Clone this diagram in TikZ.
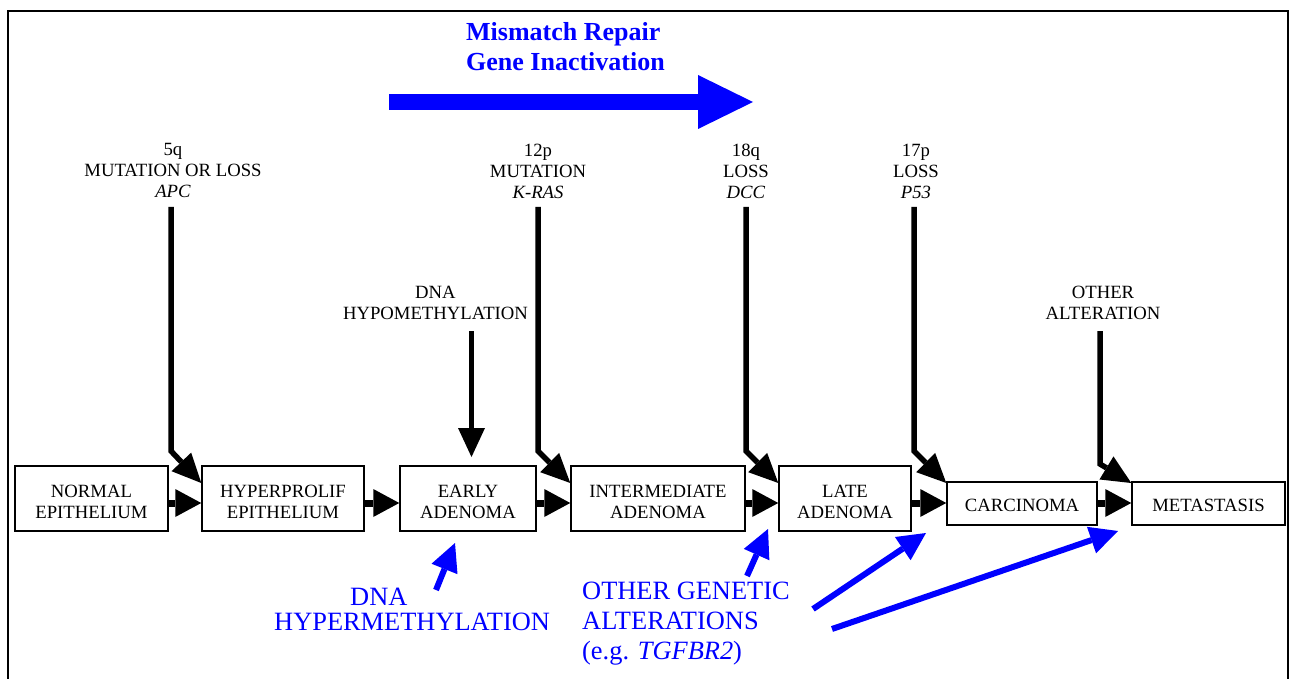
\documentclass[tikz,border=0pt]{standalone}
\usepackage{fontspec}
\setmainfont{Liberation Serif}
\usetikzlibrary{arrows.meta}
\definecolor{mblue}{RGB}{0,0,255}
\begin{document}
\begin{tikzpicture}[x=1pt,y=-1pt,
 box/.style={draw,line width=1.5pt,inner sep=0pt},
 boxtxt/.style={align=center,font=\fontsize{18.7}{21}\selectfont,inner sep=0pt,yshift=-3.5pt},
 boxtxtb/.style={align=center,font=\fontsize{18.7}{21}\selectfont,inner sep=0pt,yshift=-1.5pt},
 lbl/.style={align=center,font=\fontsize{18.7}{21}\selectfont,inner sep=0pt},
 blbl/.style={align=left,text=mblue,inner sep=0pt,anchor=west},
 hor/.style={line width=7pt,-{Triangle[length=26pt,width=28pt,line width=0pt]}},
 blk/.style={line width=5.5pt,-{Triangle[length=29pt,width=27pt,line width=0pt]}},
 bluearr/.style={mblue,line width=6pt,-{Triangle[length=28pt,width=28pt,line width=0pt]}},
]
\useasboundingbox (0,0) rectangle (1291,679);
\draw[line width=2.5pt] (8,679) -- (8,11) -- (1288,11) -- (1288,679);

% title and big arrow
\node[blbl,font=\bfseries\fontsize{26}{30}\selectfont] (mmr) at (466,47) {Mismatch Repair\\Gene Inactivation};
\coordinate (ma) at (389,102);
\coordinate (mb) at (753,102);
\draw[mblue,line width=16pt,-{Triangle[length=55pt,width=54pt,line width=0pt]}] (ma) -- (mb);

% stage boxes
\node[box,minimum width=153pt,minimum height=65pt,label={[boxtxt]center:{NORMAL\\EPITHELIUM}}] (n1) at (91.5,498.5) {};
\node[box,minimum width=162pt,minimum height=65pt,label={[boxtxt]center:{HYPERPROLIF\\EPITHELIUM}}] (n2) at (283,498.5) {};
\node[box,minimum width=136pt,minimum height=65pt,label={[boxtxt]center:{EARLY\\ADENOMA}}] (n3) at (468,498.5) {};
\node[box,minimum width=174pt,minimum height=65pt,label={[boxtxt]center:{INTERMEDIATE\\ADENOMA}}] (n4) at (658,498.5) {};
\node[box,minimum width=132pt,minimum height=65pt,label={[boxtxt]center:{LATE\\ADENOMA}}] (n5) at (845,498.5) {};
\node[box,minimum width=150pt,minimum height=43pt,label={[boxtxtb]center:CARCINOMA}] (n6) at (1022,503.5) {};
\node[box,minimum width=153pt,minimum height=43pt,label={[boxtxtb]center:METASTASIS}] (n7) at (1208.5,503.5) {};

\coordinate (ya) at (0,503);
\coordinate (yt) at (0,483);
\draw[hor] (n1.east |- ya) -- (n2.west |- ya);
\draw[hor] (n2.east |- ya) -- (n3.west |- ya);
\draw[hor] (n3.east |- ya) -- (n4.west |- ya);
\draw[hor] (n4.east |- ya) -- (n5.west |- ya);
\draw[hor] (n5.east |- ya) -- (n6.west |- ya);
\draw[hor] (n6.east |- ya) -- (n7.west |- ya);

% top labels
\node[lbl] (apc) at (173,170) {5q\\MUTATION OR LOSS\\\textit{APC}};
\node[lbl] (kras) at (538,171) {12p\\MUTATION\\\textit{K-RAS}};
\node[lbl] (dcc) at (746,171) {18q\\LOSS\\\textit{DCC}};
\node[lbl] (p53) at (916,171) {17p\\LOSS\\\textit{P53}};
\node[lbl] (hypo) at (435.5,302.5) {DNA\\HYPOMETHYLATION};
\node[lbl] (oth) at (1103,302.5) {OTHER\\ALTERATION};

\coordinate (hypotip) at (471.5,457);
\draw[blk] (171,207) -- (171,451) -- (n2.west |- yt);
\draw[blk] (kras.south |- 0,207) -- (kras.south |- 0,451) -- (n4.west |- yt);
\draw[blk] (dcc.south |- 0,207) -- (dcc.south |- 0,451) -- (n5.west |- yt);
\draw[blk] (914,207) -- (914,451) -- (n6.west |- yt);
\draw[blk] (471.5,331) -- (hypotip);
\draw[blk] (1100,331) -- (1100,464) -- (n7.west |- yt);

% bottom blue labels
\node[blbl,font=\fontsize{26.4}{25}\selectfont] (hyper) at (274,609.5) {\hspace*{76pt}DNA\\HYPERMETHYLATION};
\node[blbl,font=\fontsize{26.4}{30}\selectfont] (ogen) at (582,624) {OTHER GENETIC\\ALTERATIONS\\(e.g. \textit{TGFBR2})};

\coordinate (t1) at (436,590); \coordinate (h1) at (455,543);
\coordinate (t2) at (747,576); \coordinate (h2) at (768,529);
\coordinate (t3) at (813,609); \coordinate (h3) at (926,533);
\coordinate (t4) at (832,629); \coordinate (h4) at (1118,531);
\draw[bluearr] (t1) -- (h1);
\draw[bluearr] (t2) -- (h2);
\draw[bluearr] (t3) -- (h3);
\draw[bluearr] (t4) -- (h4);
\end{tikzpicture}
\end{document}
